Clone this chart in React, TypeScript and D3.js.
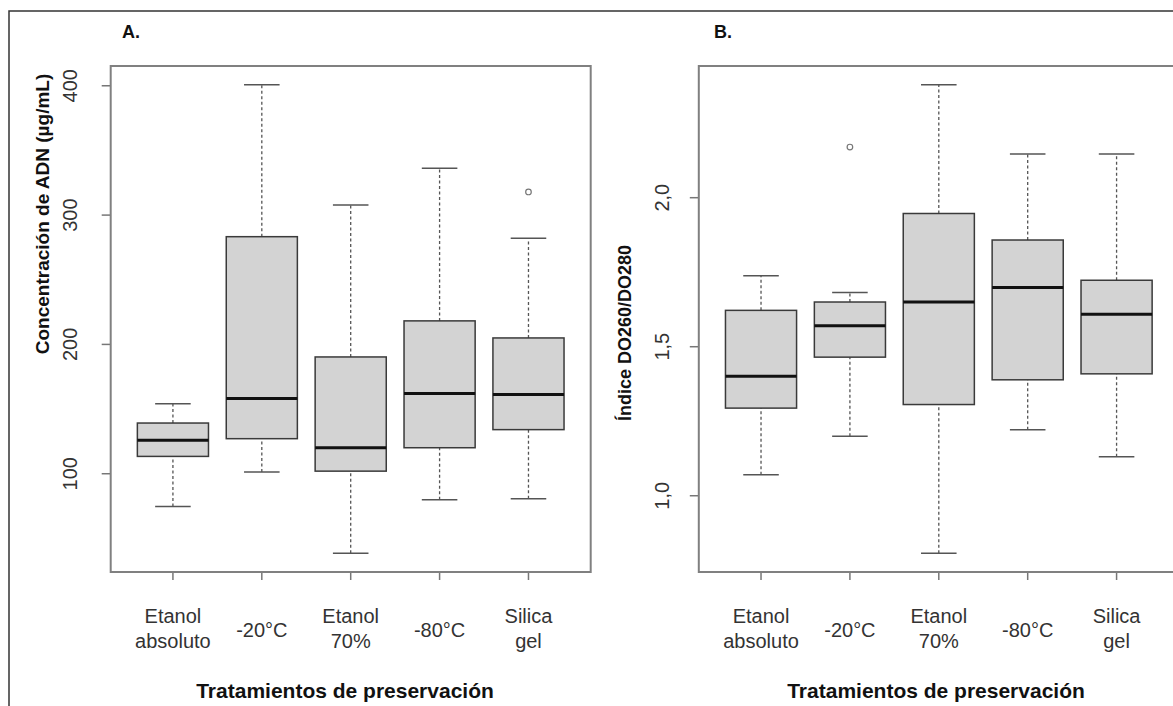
import React, { useEffect, useRef } from 'react';
import * as d3 from 'd3';

// categorias (eje x, comun a ambos paneles)
const categories = ['Etanol\nabsoluto', '-20°C', 'Etanol\n70%', '-80°C', 'Silica\ngel'];

// panel A: concentracion de ADN (ug/mL)
const adnLow = [74.7, 101.3, 38.5, 79.8, 80.6];
const adnQ1 = [113.4, 127.1, 102.0, 120.1, 134.1];
const adnMed = [125.8, 158.1, 120.1, 162.0, 161.2];
const adnQ3 = [139.2, 283.3, 190.3, 218.2, 205.0];
const adnHigh = [154.2, 400.8, 307.8, 336.2, 282.0];
const adnOut: number[][] = [[], [], [], [], [317.9]];
const adnTicks = [100, 200, 300, 400];
const adnTickLabels = ['100', '200', '300', '400'];

// panel B: indice DO260/DO280
const ratioLow = [1.07, 1.2, 0.807, 1.221, 1.131];
const ratioQ1 = [1.294, 1.465, 1.306, 1.389, 1.409];
const ratioMed = [1.401, 1.57, 1.65, 1.699, 1.609];
const ratioQ3 = [1.622, 1.65, 1.947, 1.858, 1.723];
const ratioHigh = [1.738, 1.682, 2.379, 2.147, 2.147];
const ratioOut: number[][] = [[], [2.17], [], [], []];
const ratioTicks = [1.0, 1.5, 2.0];
const ratioTickLabels = ['1,0', '1,5', '2,0'];

const FONT = '"Liberation Sans", Arial, Helvetica, sans-serif';

const App = () => {
  const svgRef = useRef(null);

  useEffect(() => {
    const svg = d3.select(svgRef.current);
    svg.selectAll('*').remove();

    // outer frame of the figure
    svg.append('path')
      .attr('d', 'M9,706 L9,11 L1173,11')
      .attr('fill', 'none')
      .attr('stroke', '#333')
      .attr('stroke-width', 1.5);

    const top = 66;
    const bottom = 572;
    const plotW = 480;

    const drawPanel = (opts) => {
      const { left, low, q1, med, q3, high, outs, ticks, tickLabels, letter, letterX,
        yTitle, yTitleX, yTitleY, yTitleSize, xTitleX, labelGap } = opts;

      const g = svg.append('g');

      // R style ranges: +4% on both ends
      const xScale = d3.scaleLinear().domain([0.3, 5.7]).range([left, left + plotW]);
      const allVals = [...low, ...high, ...outs.flat()];
      const lo = d3.min(allVals);
      const hi = d3.max(allVals);
      const pad = (hi - lo) * 0.04;
      const yScale = d3.scaleLinear().domain([lo - pad, hi + pad]).range([bottom, top]);

      const boxW = xScale(0.8) - xScale(0);
      const capW = boxW / 2;

      categories.forEach((cat, i) => {
        const cx = xScale(i + 1);

        // whiskers
        [[low[i], q1[i]], [q3[i], high[i]]].forEach(([a, b]) => {
          g.append('line')
            .attr('x1', cx).attr('x2', cx)
            .attr('y1', yScale(a)).attr('y2', yScale(b))
            .attr('stroke', '#555')
            .attr('stroke-width', 1.3)
            .attr('stroke-dasharray', '3,2.5');
        });
        [low[i], high[i]].forEach((v) => {
          g.append('line')
            .attr('x1', cx - capW / 2).attr('x2', cx + capW / 2)
            .attr('y1', yScale(v)).attr('y2', yScale(v))
            .attr('stroke', '#555')
            .attr('stroke-width', 1.5);
        });

        // box
        g.append('rect')
          .attr('x', cx - boxW / 2)
          .attr('y', yScale(q3[i]))
          .attr('width', boxW)
          .attr('height', yScale(q1[i]) - yScale(q3[i]))
          .attr('fill', '#d3d3d3')
          .attr('stroke', '#3a3a3a')
          .attr('stroke-width', 1.5);

        // median
        g.append('line')
          .attr('x1', cx - boxW / 2).attr('x2', cx + boxW / 2)
          .attr('y1', yScale(med[i])).attr('y2', yScale(med[i]))
          .attr('stroke', '#111')
          .attr('stroke-width', 3);

        // outliers
        outs[i].forEach((v) => {
          g.append('circle')
            .attr('cx', cx).attr('cy', yScale(v))
            .attr('r', 2.8)
            .attr('fill', 'none')
            .attr('stroke', '#777')
            .attr('stroke-width', 1.2);
        });

        // x tick + label
        g.append('line')
          .attr('x1', cx).attr('x2', cx)
          .attr('y1', bottom).attr('y2', bottom + 8)
          .attr('stroke', '#777')
          .attr('stroke-width', 1.5);

        const lines = cat.split('\n');
        const text = g.append('text')
          .attr('text-anchor', 'middle')
          .attr('font-family', FONT)
          .attr('font-size', 20)
          .attr('fill', '#333');
        if (lines.length === 1) {
          text.append('tspan').attr('x', cx).attr('y', 637).text(lines[0]);
        } else {
          text.append('tspan').attr('x', cx).attr('y', 623).text(lines[0]);
          text.append('tspan').attr('x', cx).attr('y', 648).text(lines[1]);
        }
      });

      // y ticks + rotated labels
      ticks.forEach((t, i) => {
        const y = yScale(t);
        g.append('line')
          .attr('x1', left - 9).attr('x2', left)
          .attr('y1', y).attr('y2', y)
          .attr('stroke', '#777')
          .attr('stroke-width', 1.5);
        g.append('text')
          .attr('transform', `translate(${left - labelGap},${y}) rotate(-90)`)
          .attr('text-anchor', 'middle')
          .attr('font-family', FONT)
          .attr('font-size', 20)
          .attr('fill', '#333')
          .text(tickLabels[i]);
      });

      // plot frame
      g.append('rect')
        .attr('x', left).attr('y', top)
        .attr('width', plotW).attr('height', bottom - top)
        .attr('fill', 'none')
        .attr('stroke', '#808080')
        .attr('stroke-width', 2);

      // titles
      g.append('text')
        .attr('x', letterX).attr('y', 38)
        .attr('font-family', FONT)
        .attr('font-weight', 'bold')
        .attr('font-size', 18)
        .attr('fill', '#111')
        .text(letter);

      g.append('text')
        .attr('transform', `translate(${yTitleX},${yTitleY}) rotate(-90)`)
        .attr('text-anchor', 'middle')
        .attr('font-family', FONT)
        .attr('font-weight', 'bold')
        .attr('font-size', yTitleSize)
        .attr('fill', '#111')
        .text(yTitle);

      g.append('text')
        .attr('x', xTitleX).attr('y', 698)
        .attr('text-anchor', 'middle')
        .attr('font-family', FONT)
        .attr('font-weight', 'bold')
        .attr('font-size', 21)
        .attr('fill', '#111')
        .text('Tratamientos de preservación');
    };

    drawPanel({
      left: 110.7, low: adnLow, q1: adnQ1, med: adnMed, q3: adnQ3, high: adnHigh, outs: adnOut,
      ticks: adnTicks, tickLabels: adnTickLabels, letter: 'A.', letterX: 122,
      yTitle: 'Concentración de ADN (µg/mL)', yTitleX: 49, yTitleY: 214, yTitleSize: 19,
      xTitleX: 345, labelGap: 34,
    });

    drawPanel({
      left: 698.8, low: ratioLow, q1: ratioQ1, med: ratioMed, q3: ratioQ3, high: ratioHigh, outs: ratioOut,
      ticks: ratioTicks, tickLabels: ratioTickLabels, letter: 'B.', letterX: 714,
      yTitle: 'Índice DO260/DO280', yTitleX: 631, yTitleY: 333, yTitleSize: 18,
      xTitleX: 936, labelGap: 30,
    });
  }, []);

  return (
    <svg
      ref={svgRef}
      width={1173}
      height={706}
      style={{ position: 'absolute', left: 0, top: 0, background: '#fff' }}
    />
  );
};

export default App;
